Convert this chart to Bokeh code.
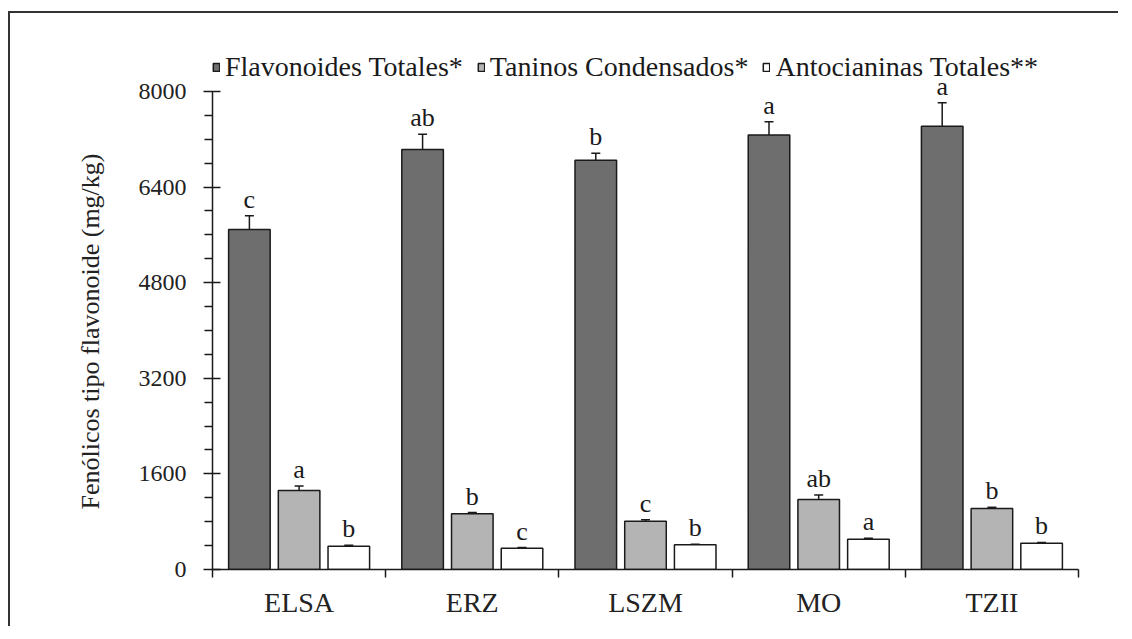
import numpy as np
from bokeh.plotting import figure
from bokeh.models import (ColumnDataSource, FixedTicker, Whisker, TeeHead, LabelSet, Title,
                          Legend, LegendItem, Range1d)
from bokeh.embed import file_html
from bokeh.resources import INLINE

# ---- data ----
sites = ["ELSA", "ERZ", "LSZM", "MO", "TZII"]
series_names = ["Flavonoides Totales*", "Taninos Condensados*", "Antocianinas Totales**"]
flavonoides = [5690, 7030, 6850, 7270, 7420]
flavonoides_err = [230, 255, 115, 225, 390]
taninos = [1322, 932, 808, 1172, 1021]
taninos_err = [75, 20, 25, 75, 20]
antocianinas = [390, 357, 413, 508, 441]
antocianinas_err = [15, 10, 8, 15, 12]
letters_flav = ["c", "ab", "b", "a", "a"]
letters_tan = ["a", "b", "c", "ab", "b"]
letters_ant = ["b", "c", "b", "a", "b"]
y_ticks = [0, 1600, 3200, 4800, 6400, 8000]
y_minor = [400, 800, 1200, 2000, 2400, 2800, 3600, 4000, 4400, 5200, 5600, 6000, 6800, 7200, 7600]
y_title = "Fenólicos tipo flavonoide (mg/kg)"

FONT = "'Liberation Serif', 'Times New Roman', serif"
colors = ["#6e6e6e", "#b4b4b4", "#ffffff"]
offsets = [-0.287, 0.0, 0.287]
bar_w = 0.24

p = figure(width=1110, height=615, output_backend="svg", toolbar_location=None,
           x_range=Range1d(0, 5), y_range=Range1d(0, 8853),
           min_border_left=202, min_border_right=42, min_border_top=27, min_border_bottom=59)
p.styles = {"border-left": "2px solid #333", "border-top": "2px solid #333",
            "margin-top": "11px", "margin-left": "8px"}
p.outline_line_color = None
p.xgrid.visible = False
p.ygrid.visible = False
p.background_fill_color = "white"

vals = [flavonoides, taninos, antocianinas]
errs = [flavonoides_err, taninos_err, antocianinas_err]
letters = [letters_flav, letters_tan, letters_ant]
idx = np.arange(len(sites))

items = []
for k in range(3):
    v = np.array(vals[k], dtype=float)
    e = np.array(errs[k], dtype=float)
    src = ColumnDataSource(dict(x=idx + 0.5 + offsets[k], top=v, upper=v + e, lower=v - e,
                                lab=letters[k]))
    r = p.vbar(x="x", top="top", width=bar_w, source=src, fill_color=colors[k],
               line_color="#1a1a1a", line_width=1.5)
    items.append(LegendItem(label=series_names[k], renderers=[r]))
    w = Whisker(base="x", upper="upper", lower="lower", source=src, dimension="height",
                line_color="#1a1a1a", line_width=1.5,
                upper_head=TeeHead(size=9, line_color="#1a1a1a", line_width=1.5),
                lower_head=TeeHead(size=9, line_color="#1a1a1a", line_width=1.5))
    p.add_layout(w)
    ls = LabelSet(x="x", y="upper", text="lab", source=src, y_offset=2,
                  text_align="center", text_baseline="bottom",
                  text_font=FONT, text_font_size="26px", text_color="#1a1a1a")
    p.add_layout(ls)

# y axis
p.yaxis.ticker = FixedTicker(ticks=y_ticks, minor_ticks=y_minor)
p.yaxis.bounds = (0, 8000)
p.yaxis.major_label_text_font = FONT
p.yaxis.major_label_text_font_size = "24px"
p.yaxis.major_label_text_color = "#222222"
p.yaxis.major_label_standoff = 17
p.yaxis.major_tick_out = 9
p.yaxis.major_tick_in = 8
p.yaxis.minor_tick_out = 8
p.yaxis.minor_tick_in = 0
p.yaxis.axis_line_width = 1.5
p.yaxis.major_tick_line_width = 1.5
p.yaxis.minor_tick_line_width = 1.5
p.yaxis.axis_line_color = "#1a1a1a"
p.yaxis.major_tick_line_color = "#1a1a1a"
p.yaxis.minor_tick_line_color = "#1a1a1a"

# y axis title, centred on the 0-8000 axis span rather than the whole frame
ytitle = Title(text=y_title, align="left", vertical_align="top", offset=60, standoff=57,
               text_font=FONT, text_font_size="26px", text_font_style="normal",
               text_color="#222222")
p.add_layout(ytitle, "left")

# x axis: labels at centres, ticks at boundaries
p.xaxis.ticker = FixedTicker(ticks=list(idx + 0.5), minor_ticks=list(range(len(sites) + 1)))
p.xaxis.major_label_overrides = {float(i + 0.5): s for i, s in enumerate(sites)}
p.xaxis.major_tick_out = 0
p.xaxis.major_tick_in = 0
p.xaxis.minor_tick_out = 8
p.xaxis.minor_tick_in = 0
p.xaxis.major_label_text_font = FONT
p.xaxis.major_label_text_font_size = "28px"
p.xaxis.major_label_text_color = "#222222"
p.xaxis.major_label_standoff = 9
p.xaxis.axis_line_width = 1.5
p.xaxis.minor_tick_line_width = 1.5
p.xaxis.axis_line_color = "#1a1a1a"
p.xaxis.minor_tick_line_color = "#1a1a1a"

legend = Legend(items=items, orientation="horizontal", location=(0, 486),
                glyph_width=8, glyph_height=10, label_standoff=5, spacing=14,
                padding=0, margin=0, background_fill_alpha=0, border_line_alpha=0,
                label_text_font=FONT, label_text_font_size="28px", label_text_color="#1a1a1a")
p.add_layout(legend)

open("out.html", "w").write(file_html(p, INLINE))
